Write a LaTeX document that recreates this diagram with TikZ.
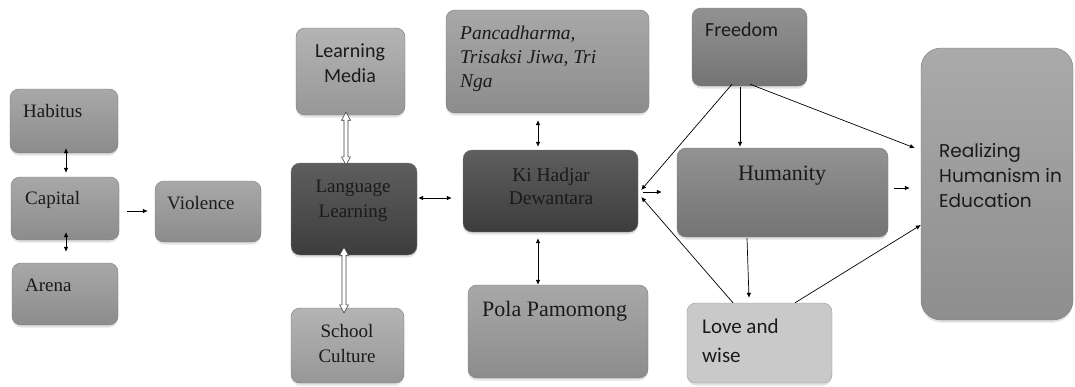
\documentclass[tikz,border=0pt]{standalone}
\usepackage{fontspec}
\setmainfont{Liberation Serif}
\newfontfamily\calib{Carlito}
\newfontfamily\gothic{Poppins}
\usetikzlibrary{arrows.meta,calc,shadows}

\definecolor{midT}{HTML}{A8A8A8}
\definecolor{midB}{HTML}{8C8C8C}
\definecolor{liteT}{HTML}{B4B4B4}
\definecolor{liteB}{HTML}{979797}
\definecolor{darkT}{HTML}{5E5E5E}
\definecolor{darkB}{HTML}{3D3D3D}
\definecolor{freeT}{HTML}{929292}
\definecolor{freeB}{HTML}{747474}
\definecolor{realT}{HTML}{AAAAAA}
\definecolor{realB}{HTML}{8E8E8E}
\definecolor{loveF}{HTML}{C9C9C9}
\definecolor{edge}{HTML}{7A7A7A}
\definecolor{ink}{HTML}{1A1A1A}

% hollow double-headed vertical arrow from #1 (upper end) to #2 (lower end)
\newcommand{\hollowvert}[2]{%
  \draw[draw=black!75, fill=white, line width=0.6pt, line join=miter]
    (#1) -- ++(4.5,8) -- ++(-2.5,0) -- ($(#2)+(2,-8)$) -- ++(2.5,0) -- (#2)
    -- ++(-4.5,-8) -- ++(2.5,0) -- ($(#1)+(-2,8)$) -- ++(-2.5,0) -- cycle;}

\begin{document}
\begin{tikzpicture}[x=1pt,y=-1pt,
  box/.style={rounded corners=9pt, draw=edge, line width=0.4pt, inner sep=0pt,
    drop shadow={shadow xshift=0pt, shadow yshift=-2.5pt, opacity=0.22}},
  mid/.style={box, top color=midT, bottom color=midB},
  lite/.style={box, top color=liteT, bottom color=liteB},
  dark/.style={box, top color=darkT, bottom color=darkB},
  free/.style={box, top color=freeT, bottom color=freeB},
  real/.style={box, rounded corners=20pt, top color=realT, bottom color=realB},
  pale/.style={box, fill=loveF, draw=gray!80},
  serif/.style={inner sep=0pt, text=ink, font=\fontsize{19}{25}\selectfont},
  bigserif/.style={inner sep=0pt, text=ink, font=\fontsize{22}{26}\selectfont},
  italserif/.style={inner sep=0pt, text=ink, align=left, font=\fontsize{19.5}{24}\selectfont\itshape},
  sans/.style={inner sep=0pt, text=ink, font=\fontsize{20}{25}\selectfont\calib},
  geo/.style={inner sep=0pt, text=ink, align=left, font=\fontsize{18.5}{25}\selectfont\gothic},
  arr/.style={line width=0.7pt, -{Latex[length=5pt,width=4.5pt]}},
  arrb/.style={line width=0.7pt, {Latex[length=5pt,width=4.5pt]}-{Latex[length=5pt,width=4.5pt]}}
]
\useasboundingbox (0,0) rectangle (1075,386);

% ---- boxes ----
\node[mid, minimum width=108, minimum height=64] (habitus) at (64,121) {};
\node[mid, minimum width=108, minimum height=63] (capital) at (65,208.5) {};
\node[mid, minimum width=106, minimum height=62] (arena) at (65,294) {};
\node[mid, minimum width=106, minimum height=61] (violence) at (208,211.5) {};

\node[lite, minimum width=109, minimum height=87] (lm) at (350.5,71.5) {};
\node[dark, minimum width=126, minimum height=92] (ll) at (354,209) {};
\node[lite, minimum width=113, minimum height=75] (sc) at (347.5,345.5) {};

\node[mid, minimum width=203, minimum height=103] (panca) at (547.5,61.5) {};
\node[dark, minimum width=175, minimum height=82] (khd) at (550.5,191) {};
\node[mid, minimum width=180, minimum height=93] (pola) at (558,331.5) {};

\node[free, minimum width=115, minimum height=78] (freedom) at (749.5,47) {};
\node[free, minimum width=211, minimum height=89] (humanity) at (782.5,192.5) {};
\node[pale, minimum width=145, minimum height=80] (love) at (759.5,343) {};
\node[real, minimum width=152, minimum height=272] (realizing) at (997,184) {};

% ---- labels (multi-line labels are placed by the baseline of their last line) ----
\node[serif, anchor=base west] (habitusT) at (23,117) {Habitus};
\node[serif, anchor=base west] (capitalT) at (25,204) {Capital};
\node[serif, anchor=base west] (arenaT) at (25,291) {Arena};
\node[serif, anchor=base west] (violenceT) at (167,209) {Violence};

\node[sans, anchor=base, align=center] (lmT) at (350,82) {Learning\\Media};
\node[serif, anchor=base, align=center] (llT) at (353,217) {Language\\Learning};
\node[serif, anchor=base, align=center] (scT) at (347,362) {School\\Culture};

\node[italserif, anchor=base west] (pancaT) at (460,87) {Pancadharma,\\Trisaksi Jiwa, Tri\\Nga};
\node[serif, anchor=base, align=center, font=\fontsize{19.5}{22.5}\selectfont] (khdT) at (551,204) {Ki Hadjar\\Dewantara};
\node[bigserif, anchor=base west] (polaT) at (482,316) {Pola Pamomong};

\node[sans, anchor=base west] (freedomT) at (705,36) {Freedom};
\node[bigserif, anchor=base] (humanityT) at (782,180) {Humanity};
\node[sans, anchor=base west, align=left, font=\fontsize{21}{29}\selectfont\calib] (loveT) at (702,362) {Love and\\wise};
\node[geo, anchor=base west] (realizingT) at (939,207) {Realizing\\Humanism in\\Education};

% ---- connectors ----
\draw[arrb] ($(habitus.south)+(2,-5)$) -- ($(capital.north)+(1,-4)$);
\draw[arrb] ($(capital.south)+(1,-8)$) -- ($(arena.north)+(1,-11)$);
\draw[arr] ($(capital.east)+(8,2.5)$) -- ($(violence.west)+(-7,-0.5)$);

\hollowvert{$(lm.south)+(-4.5,-3)$}{$(ll.north)+(-8,2)$}
\hollowvert{$(ll.south)+(-10,-8)$}{$(sc.north)+(-3.5,5)$}
\draw[arrb] ($(ll.east)+(1,-11)$) -- ($(khd.west)+(-11,7)$);

\draw[arrb] ($(panca.south)+(-9.5,7)$) -- ($(khd.north)+(-12.5,-3)$);
\draw[arrb] ($(khd.south)+(-12.5,6)$) -- ($(pola.north)+(-20,0)$);
\draw[arr] ($(khd.east)+(5,1)$) -- ($(humanity.west)+(-15,-0.5)$);

\draw[arr] ($(freedom.south)+(-17.5,-2)$) -- ($(khd.east)+(3,-1)$);
\draw[arr] ($(love.north)+(-26.5,0)$) -- ($(khd.east)+(3,6)$);
\draw[arr] ($(freedom.south)+(-9.5,1)$) -- ($(humanity.north)+(-42.5,-1)$);
\draw[arr] ($(freedom.south)+(0.5,-2)$) -- ($(realizing.west)+(-6,-36)$);
\draw[arr] ($(humanity.east)+(6,-4.5)$) -- ($(realizing.west)+(-11,4)$);
\draw[arr] ($(humanity.south)+(-35.5,1)$) -- ($(love.north)+(-10.5,-5)$);
\draw[arr] ($(love.north)+(35.5,0)$) -- ($(realizing.west)+(0,41)$);
\end{tikzpicture}
\end{document}
